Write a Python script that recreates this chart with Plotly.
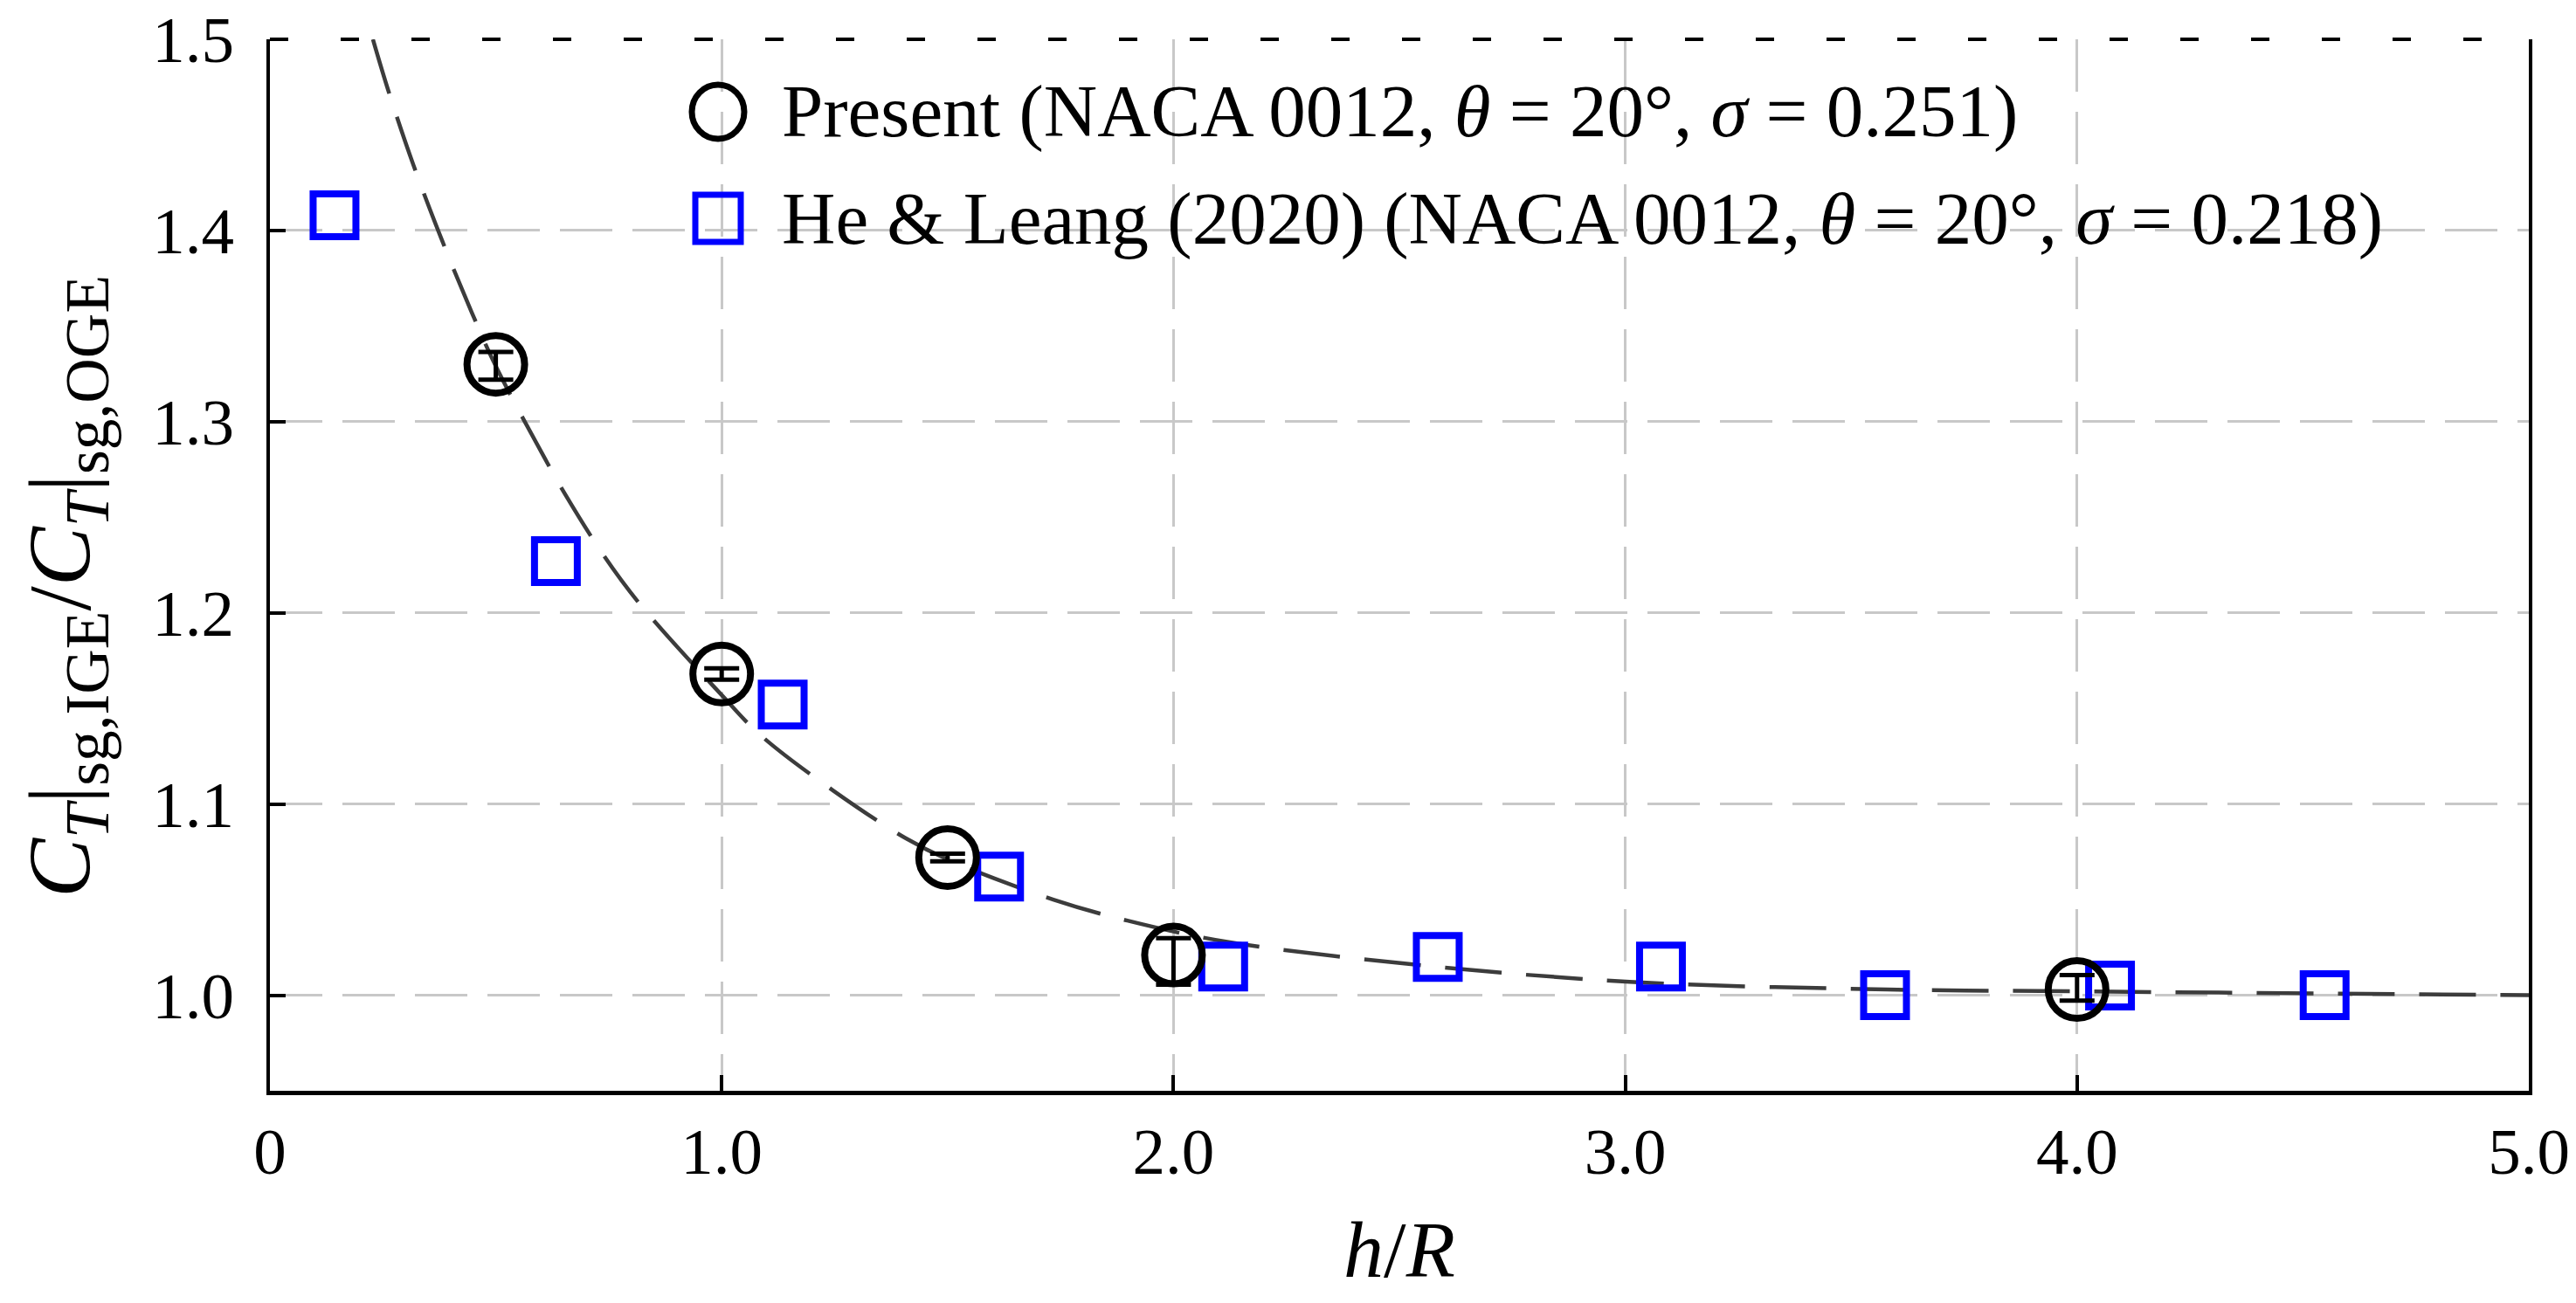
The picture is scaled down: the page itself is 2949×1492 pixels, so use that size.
import plotly.graph_objects as go

# Present simulations (NACA 0012, theta = 20 deg, sigma = 0.251)
present_hr = [0.5, 1.0, 1.5, 2.0, 4.0]
present_ratio = [1.330, 1.168, 1.072, 1.021, 1.003]
present_err_plus = [0.0065, 0.003, 0.002, 0.0088, 0.0075]
present_err_minus = [0.008, 0.003, 0.002, 0.0155, 0.0058]

# He & Leang (2020) (NACA 0012, theta = 20 deg, sigma = 0.218)
he_hr = [0.143, 0.633, 1.135, 1.614, 2.110, 2.585, 3.079, 3.575, 4.073, 4.548]
he_ratio = [1.408, 1.227, 1.152, 1.062, 1.015, 1.020, 1.015, 1.000, 1.005, 1.000]

# dashed fit curve
fit_hr = [0.228, 0.263, 0.318, 0.379, 0.447, 0.50, 0.608, 0.656, 0.736, 0.814,
          1.0, 1.086, 1.247, 1.408, 1.50, 1.734, 1.898, 2.116, 2.535, 3.01,
          3.58, 4.0, 5.0]
fit_ratio = [1.500, 1.4725, 1.434, 1.396, 1.357, 1.329, 1.281, 1.261, 1.231, 1.206,
             1.157, 1.136, 1.107, 1.082, 1.071, 1.050, 1.039, 1.028, 1.016, 1.007,
             1.003, 1.002, 1.000]

x_ticks = [0, 1, 2, 3, 4, 5]
x_ticktext = ["0", "1.0", "2.0", "3.0", "4.0", "5.0"]
y_ticks = [1.0, 1.1, 1.2, 1.3, 1.4, 1.5]
y_ticktext = ["1.0", "1.1", "1.2", "1.3", "1.4", "1.5"]

legend_labels = [
    "Present (NACA 0012, <i>θ</i> = 20°, <i>σ</i> = 0.251)",
    "He &amp; Leang (2020) (NACA 0012, <i>θ</i> = 20°, <i>σ</i> = 0.218)",
]
y_title = ("<i>C</i><sub><i>T</i></sub>|<sub>sg,IGE</sub>/"
           "<i>C</i><sub><i>T</i></sub>|<sub>sg,OGE</sub>")

FONT = "Liberation Serif, Times New Roman, serif"
W, H = 2949, 1492
# page body has an 8px margin, so shift the figure margins to compensate
PX0, PY0 = 309, 45          # plot-area origin in the picture
PW, PH = 2586, 1204         # plot-area size
ML, MT = PX0 - 8, PY0 - 8
MR = W - ML - PW
MB = H - MT - PH


def px_to_paper(xp, yp):
    return (xp - PX0) / PW, 1 - (yp - PY0) / PH


fig = go.Figure()

fig.add_trace(go.Scatter(
    x=fit_hr, y=fit_ratio, mode="lines",
    line=dict(color="#3c3c3c", width=4.5, dash="65px,28px", shape="spline"),
    showlegend=False, hoverinfo="skip",
))

fig.add_trace(go.Scatter(
    x=he_hr, y=he_ratio, mode="markers",
    marker=dict(symbol="square-open", size=49, color="#0000ff",
                line=dict(width=8, color="#0000ff")),
    showlegend=False,
))

fig.add_trace(go.Scatter(
    x=present_hr, y=present_ratio, mode="markers",
    marker=dict(symbol="circle-open", size=66, color="black",
                line=dict(width=8, color="black")),
    error_y=dict(type="data", symmetric=False, array=present_err_plus,
                 arrayminus=present_err_minus, color="black", thickness=5, width=20),
    showlegend=False,
))

# hand-drawn legend (plotly caps legend marker size)
sym_x, row1 = px_to_paper(822, 128)
txt_x, row2 = px_to_paper(893, 250)
row_y = [row1, row2]

shapes = [
    dict(type="circle", xref="paper", yref="paper", xsizemode="pixel", ysizemode="pixel",
         xanchor=sym_x, yanchor=row_y[0], x0=-30, x1=30, y0=-31, y1=31,
         line=dict(color="black", width=7)),
    dict(type="rect", xref="paper", yref="paper", xsizemode="pixel", ysizemode="pixel",
         xanchor=sym_x, yanchor=row_y[1], x0=-26, x1=26, y0=-27, y1=27,
         line=dict(color="#0000ff", width=7)),
    # dashed top frame
    dict(type="line", xref="paper", yref="paper", x0=0, x1=1, y0=1, y1=1,
         line=dict(color="black", width=4, dash="21px,60px")),
]

annotations = [
    dict(xref="paper", yref="paper", x=txt_x, y=row_y[i], xanchor="left", yanchor="middle",
         text=legend_labels[i], showarrow=False,
         font=dict(family=FONT, size=85, color="black"))
    for i in range(2)
]
ty_x, ty_y = px_to_paper(75, 672)
annotations.append(dict(
    xref="paper", yref="paper", x=ty_x, y=ty_y, xanchor="center", yanchor="middle",
    text=y_title, textangle=-90, showarrow=False,
    font=dict(family=FONT, size=102, color="black"),
))

grid = dict(showgrid=True, gridcolor="#c8c8c8", gridwidth=3, griddash="60px,23px")

fig.update_layout(
    width=W, height=H,
    margin=dict(l=ML, r=MR, t=MT, b=MB),
    paper_bgcolor="white", plot_bgcolor="white",
    font=dict(family=FONT, size=75, color="black"),
    shapes=shapes, annotations=annotations,
    xaxis=dict(
        range=[0, 5], tickvals=x_ticks, ticktext=x_ticktext,
        ticks="inside", ticklen=18, tickwidth=4, tickcolor="black",
        showline=True, linecolor="black", linewidth=5, mirror=False,
        zeroline=False, tickfont=dict(size=75), automargin=False,
        ticklabeloverflow="allow",
        title=dict(text="<i>h</i>/<i>R</i>", font=dict(size=92), standoff=40),
        **grid,
    ),
    yaxis=dict(
        range=[0.95, 1.5], tickvals=y_ticks, ticktext=y_ticktext,
        ticks="inside", ticklen=18, tickwidth=4, tickcolor="black",
        showline=True, linecolor="black", linewidth=4, mirror=True,
        zeroline=False, tickfont=dict(size=75), ticklabelstandoff=22,
        automargin=False, ticklabeloverflow="allow",
        **grid,
    ),
)

fig.write_html("out.html")
